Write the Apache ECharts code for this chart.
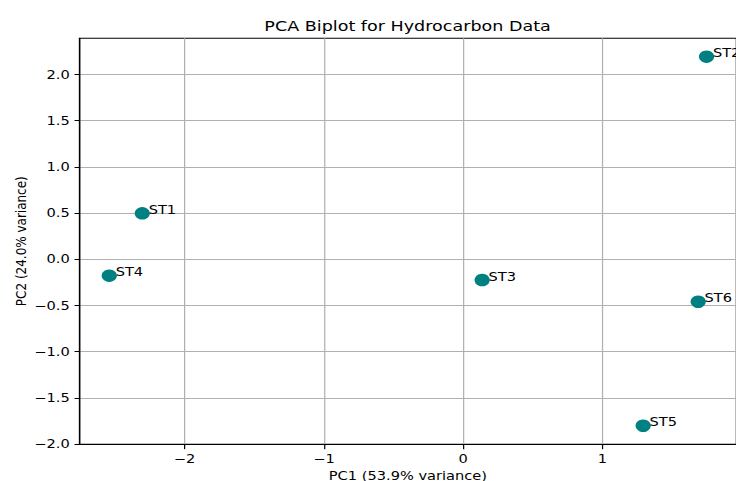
<!DOCTYPE html>
<html>
<head>
<meta charset="utf-8">
<script src="https://cdn.jsdelivr.net/npm/echarts@6/dist/echarts.min.js"></script>
<style>
html,body{margin:0;padding:0;background:#fff;overflow:hidden}
#wrap{width:736px;height:481px;overflow:hidden}
#c{width:604px;height:481px;transform:scaleX(1.2185);transform-origin:0 0}
</style>
</head>
<body>
<div id="wrap"><div id="c"></div></div>
<script>
const names = ['ST1', 'ST2', 'ST3', 'ST4', 'ST5', 'ST6'];
const pc1 = [-2.304, 1.747, 0.136, -2.541, 1.292, 1.687];
const pc2 = [0.498, 2.193, -0.224, -0.177, -1.801, -0.459];
const xTicks = [-2, -1, 0, 1];
const yTicks = [-2.0, -1.5, -1.0, -0.5, 0.0, 0.5, 1.0, 1.5, 2.0];

const font = 'DejaVu Sans';
const fmtMinus = s => String(s).replace('-', '\u2212');
const chart = echarts.init(document.getElementById('c'), null, { renderer: 'svg' });
chart.setOption({
  animation: false,
  title: {
    text: 'PCA Biplot for Hydrocarbon Data',
    left: 329.5, top: 14, textAlign: 'center',
    textStyle: { fontFamily: font, fontSize: 14.4, fontWeight: 'normal', color: '#000' }
  },
  grid: { left: 65.2, top: 38.2, width: 539.1, height: 406, show: true, borderColor: '#000', borderWidth: 1,
    outerBoundsMode: 'none', containLabel: false },
  xAxis: {
    type: 'value', min: -2.755, max: 1.961,
    name: 'PC1 (53.9% variance)', nameLocation: 'middle', nameGap: 25,
    nameTextStyle: { fontFamily: font, fontSize: 12, color: '#000' },
    axisLine: { onZero: false, lineStyle: { color: '#000', width: 1 } },
    axisTick: { show: true, length: 5, customValues: xTicks, lineStyle: { color: '#000' } },
    axisLabel: { customValues: xTicks, fontFamily: font, fontSize: 12, color: '#000', margin: 9,
      formatter: v => fmtMinus(Math.round(v)) },
    splitLine: { show: true, lineStyle: { color: '#b0b0b0', width: 1 } }
  },
  yAxis: {
    type: 'value', min: -2.001, max: 2.393,
    name: 'PC2 (24.0% variance)', nameLocation: 'middle', nameGap: 42, nameRotate: 90,
    nameMoveOverlap: false,
    nameTextStyle: { fontFamily: font, fontSize: 12, color: '#000' },
    axisLine: { onZero: false, lineStyle: { color: '#000', width: 1 } },
    axisTick: { show: true, length: 4, customValues: yTicks, lineStyle: { color: '#000' } },
    axisLabel: { customValues: yTicks, fontFamily: font, fontSize: 12, color: '#000', margin: 8,
      formatter: v => fmtMinus(v.toFixed(1)) },
    splitLine: { show: true, lineStyle: { color: '#b0b0b0', width: 1 } }
  },
  series: [{
    type: 'scatter',
    symbolSize: 12.5,
    itemStyle: { color: '#008080', opacity: 1 },
    data: names.map((n, i) => ({ name: n, value: [pc1[i], pc2[i]] })),
    label: {
      show: true, position: 'right', distance: 0, offset: [-1, -3.5],
      formatter: p => p.name,
      fontFamily: font, fontSize: 12, color: '#000'
    }
  }]
});
</script>
</body>
</html>
